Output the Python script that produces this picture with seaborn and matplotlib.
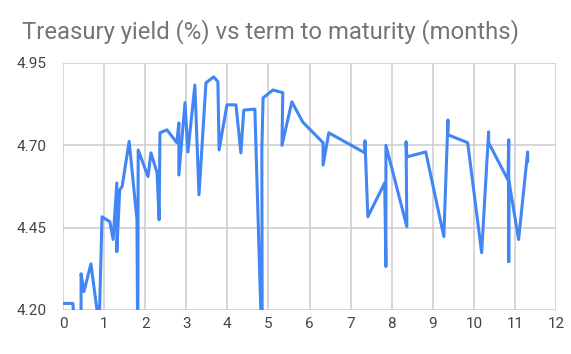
import matplotlib
matplotlib.use("Agg")
import matplotlib.pyplot as plt
import seaborn as sns
import pandas as pd

# term to maturity and yield, in the order the points were plotted
term = [0.00, 0.24, 0.30, 0.44, 0.44, 0.51, 0.68, 0.88, 0.95, 1.14,
        1.22, 1.31, 1.31, 1.38, 1.44, 1.61, 1.80, 1.82, 1.83, 2.07,
        2.14, 2.29, 2.34, 2.36, 2.53, 2.77, 2.82, 2.82, 2.97, 3.04,
        3.21, 3.31, 3.48, 3.67, 3.77, 3.80, 3.99, 4.21, 4.33, 4.40,
        4.67, 4.85, 4.84, 4.87, 5.11, 5.35, 5.33, 5.57, 5.84, 6.33,
        6.33, 6.47, 7.35, 7.35, 7.42, 7.83, 7.86, 7.86, 8.37, 8.35,
        8.37, 8.83, 9.27, 9.37, 9.37, 9.85, 10.19, 10.36, 10.36, 10.83,
        10.85, 10.85, 10.85, 11.09, 11.31, 11.31]
yld = [4.22, 4.22, 4.12, 4.12, 4.31, 4.256, 4.34, 4.15, 4.483, 4.468,
       4.414, 4.586, 4.377, 4.565, 4.575, 4.712, 4.474, 4.05, 4.686, 4.605,
       4.677, 4.617, 4.474, 4.738, 4.747, 4.708, 4.768, 4.61, 4.83, 4.68,
       4.883, 4.55, 4.89, 4.908, 4.893, 4.686, 4.823, 4.823, 4.677, 4.807,
       4.81, 4.05, 4.686, 4.844, 4.868, 4.86, 4.70, 4.832, 4.77, 4.708,
       4.64, 4.738, 4.677, 4.714, 4.483, 4.586, 4.332, 4.70, 4.453, 4.711,
       4.665, 4.68, 4.423, 4.777, 4.732, 4.708, 4.374, 4.741, 4.708, 4.595,
       4.717, 4.347, 4.595, 4.414, 4.68, 4.65]

x_ticks = list(range(0, 13))
y_ticks = [4.20, 4.45, 4.70, 4.95]
y_labels = ["4.20", "4.45", "4.70", "4.95"]

df = pd.DataFrame({"term": term, "yield": yld})

sns.set_style("white")
plt.rcParams["font.family"] = ["Roboto", "DejaVu Sans"]

fig = plt.figure(figsize=(5.71, 3.54), dpi=100)
ax = fig.add_axes([63 / 571, 1 - 310 / 354, (556 - 63) / 571, (310 - 63) / 354])

sns.lineplot(data=df, x="term", y="yield", sort=False, estimator=None,
             color="#4285F4", linewidth=2.2, ax=ax, zorder=3)

ax.set_xlim(0, 12)
ax.set_ylim(4.20, 4.95)
ax.set_xticks(x_ticks)
ax.set_yticks(y_ticks)
ax.set_yticklabels(y_labels)
ax.grid(True, color="#cccccc", linewidth=1.1)
ax.set_axisbelow(True)
for s in ax.spines.values():
    s.set_visible(False)
ax.tick_params(length=0, labelsize=11, labelcolor="#444444")
ax.tick_params(axis="y", pad=12)
ax.tick_params(axis="x", pad=5)
ax.set_xlabel("")
ax.set_ylabel("")

fig.text(22 / 571, 1 - 38 / 354, "Treasury yield (%) vs term to maturity (months)",
         fontsize=17.2, color="#757575", va="baseline", ha="left")

fig.savefig("out.png", dpi=100)
